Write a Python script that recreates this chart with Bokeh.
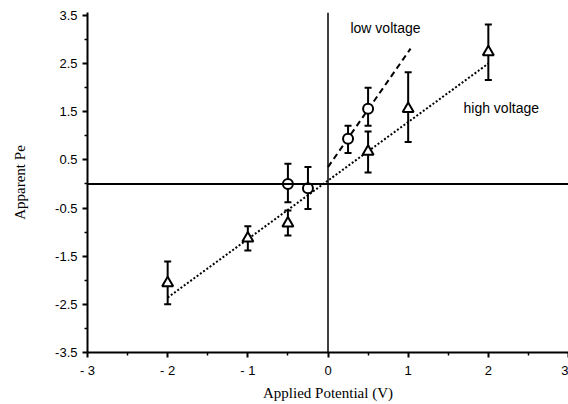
from bokeh.plotting import figure
from bokeh.models import (ColumnDataSource, Whisker, TeeHead, Span, Label,
                          FixedTicker, Range1d)
from bokeh.embed import file_html
from bokeh.resources import INLINE

# ---- data ----
high_x = [-2, -1, -0.5, 0.5, 1, 2]
high_y = [-2.06, -1.13, -0.82, 0.67, 1.56, 2.74]
high_upper = [-1.61, -0.88, -0.55, 1.09, 2.32, 3.31]
high_lower = [-2.50, -1.38, -1.07, 0.24, 0.87, 2.16]

low_x = [-0.5, -0.25, 0.25, 0.5]
low_y = [0.0, -0.09, 0.94, 1.56]
low_upper = [0.42, 0.35, 1.21, 2.00]
low_lower = [-0.38, -0.52, 0.64, 1.21]

low_fit_x = [0.0, 1.03]
low_fit_y = [0.35, 2.81]
high_fit_x = [-2.0, 2.0]
high_fit_y = [-2.36, 2.50]

x_ticks = [-3, -2, -1, 0, 1, 2, 3]
x_tick_labels = ["- 3", "- 2", "- 1", "0", "1", "2", "3"]
y_ticks = [3.5, 2.5, 1.5, 0.5, -0.5, -1.5, -2.5, -3.5]
y_tick_labels = ["3.5", "2.5", "1.5", "0.5", "-0.5", "-1.5", "-2.5", "-3.5"]

SANS = "Liberation Sans"
SERIF = "Liberation Serif"

p = figure(width=568, height=404, output_backend="svg", toolbar_location=None,
           x_range=Range1d(-3, 3), y_range=Range1d(-3.5, 3.56),
           min_border_left=87, min_border_right=0, min_border_top=12,
           min_border_bottom=52)
p.outline_line_color = None
p.grid.visible = False
p.background_fill_color = "white"

# axes
for ax in (p.xaxis[0], p.yaxis[0]):
    ax.axis_line_width = 2
    ax.axis_line_color = "black"
    ax.major_tick_line_width = 2
    ax.minor_tick_line_width = 1.5
    ax.major_tick_in = 0
    ax.major_tick_out = 5
    ax.minor_tick_in = 0
    ax.minor_tick_out = 3
    ax.major_label_text_font = SANS
    ax.major_label_text_font_size = "13px"
    ax.major_label_text_color = "black"
    ax.axis_label_text_font = SERIF
    ax.axis_label_text_font_size = "15px"
    ax.axis_label_text_font_style = "normal"
    ax.axis_label_text_color = "black"

p.xaxis.ticker = FixedTicker(ticks=x_ticks,
                             minor_ticks=[-2.5, -1.5, -0.5, 0.5, 1.5, 2.5])
p.xaxis.major_label_overrides = {t: l for t, l in zip(x_ticks, x_tick_labels)}
p.xaxis.axis_label = "Applied Potential (V)"
p.xaxis.major_label_standoff = 5
p.xaxis.axis_label_standoff = 4

p.yaxis.ticker = FixedTicker(ticks=y_ticks,
                             minor_ticks=[3, 2, 1, 0, -1, -2, -3])
p.yaxis.major_label_overrides = {t: l for t, l in zip(y_ticks, y_tick_labels)}
p.yaxis.axis_label = "Apparent Pe"
p.yaxis.major_label_standoff = 5
p.yaxis.axis_label_standoff = 24

# zero lines
p.add_layout(Span(location=0, dimension="width", line_color="black", line_width=2))
p.add_layout(Span(location=0, dimension="height", line_color="black", line_width=1.5))

# fit lines
p.line(low_fit_x, low_fit_y, line_color="black", line_width=2, line_dash="6 4")
p.line(high_fit_x, high_fit_y, line_color="black", line_width=2, line_dash="2 2")

# error bars
hs = ColumnDataSource(dict(x=high_x, y=high_y, upper=high_upper, lower=high_lower))
ls = ColumnDataSource(dict(x=low_x, y=low_y, upper=low_upper, lower=low_lower))
for src in (hs, ls):
    w = Whisker(source=src, base="x", upper="upper", lower="lower",
                line_color="black", line_width=2,
                upper_head=TeeHead(size=7, line_width=2, line_color="black"),
                lower_head=TeeHead(size=7, line_width=2, line_color="black"))
    p.add_layout(w)

# markers
p.scatter("x", "y", source=hs, marker="triangle", size=11,
          fill_color="white", line_color="black", line_width=2)
p.scatter("x", "y", source=ls, marker="circle", size=10,
          fill_color="white", line_color="black", line_width=2)

# annotations
p.add_layout(Label(x=0.28, y=3.24, text="low voltage", text_font=SANS,
                   text_font_size="14px", text_baseline="middle", text_color="black"))
p.add_layout(Label(x=1.69, y=1.57, text="high voltage", text_font=SANS,
                   text_font_size="14px", text_baseline="middle", text_color="black"))

open("out.html", "w").write(file_html(p, INLINE))
